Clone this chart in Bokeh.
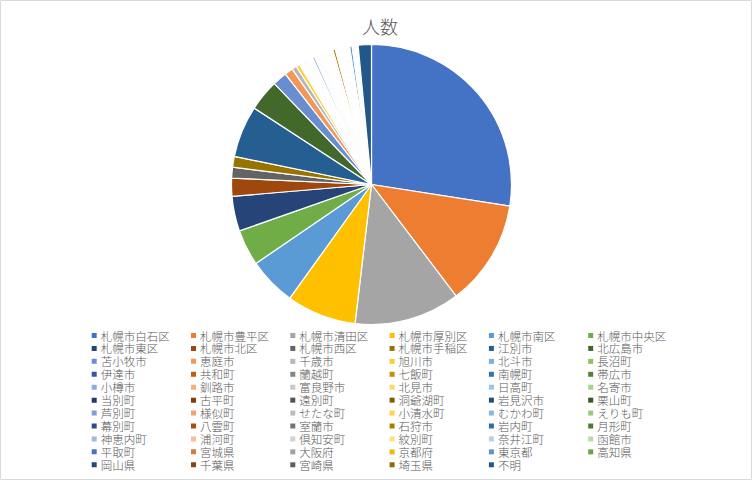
import numpy as np
from bokeh.plotting import figure
from bokeh.models import ColumnDataSource, Range1d
from bokeh.core.properties import value
from bokeh.embed import file_html
from bokeh.resources import INLINE

title_text = "人数"

categories = [
    "札幌市白石区", "札幌市豊平区", "札幌市清田区", "札幌市厚別区", "札幌市南区", "札幌市中央区",
    "札幌市東区", "札幌市北区", "札幌市西区", "札幌市手稲区", "江別市", "北広島市",
    "苫小牧市", "恵庭市", "千歳市", "旭川市", "北斗市", "長沼町",
    "伊達市", "共和町", "蘭越町", "七飯町", "南幌町", "帯広市",
    "小樽市", "釧路市", "富良野市", "北見市", "日高町", "名寄市",
    "当別町", "古平町", "遠別町", "洞爺湖町", "岩見沢市", "栗山町",
    "芦別町", "様似町", "せたな町", "小清水町", "むかわ町", "えりも町",
    "幕別町", "八雲町", "室蘭市", "石狩市", "岩内町", "月形町",
    "神恵内町", "浦河町", "倶知安町", "紋別町", "奈井江町", "函館市",
    "平取町", "宮城県", "大阪府", "京都府", "東京都", "高知県",
    "岡山県", "千葉県", "宮崎県", "埼玉県", "不明",
]

counts = [
    198, 88, 88, 58, 40, 30,
    29, 15, 9, 9, 43, 26,
    12, 7, 4, 3, 1, 1,
    1, 1, 1, 1, 1, 1,
    1, 1, 1, 1, 2, 1,
    1, 1, 1, 1, 1, 1,
    1, 1, 1, 1, 1, 1,
    1, 1, 1, 2, 1, 1,
    1, 1, 1, 1, 1, 1,
    1, 1, 1, 1, 2, 1,
    1, 1, 1, 1, 11,
]

colors = [
    "#4472C4", "#ED7D31", "#A5A5A5", "#FFC000", "#5B9BD5", "#70AD47",
    "#264478", "#9E480E", "#636363", "#997300", "#255E91", "#43682B",
    "#698ED0", "#F1975A", "#B7B7B7", "#FFCD33", "#7CAFDD", "#8CC168",
    "#335AA1", "#C55A11", "#848484", "#BF9000", "#2E75B6", "#548235",
    "#8FAADC", "#F4B183", "#C9C9C9", "#FFD966", "#9DC3E6", "#A9D18E",
    "#223962", "#843C0C", "#525252", "#7F6000", "#1F4E79", "#385723",
    "#7F9FD6", "#F3A26F", "#BDBDBD", "#FFD34D", "#8DB9E0", "#9BC97A",
    "#2E4E8A", "#A84E10", "#747474", "#A68000", "#2B6DA8", "#4E7A32",
    "#A2B8E1", "#F6BE98", "#D2D2D2", "#FFDF80", "#B4D1EC", "#BCDAA8",
    "#4A72C0", "#DB7A3A", "#A0A0A0", "#F2B700", "#5A93CC", "#6AA343",
    "#2A4677", "#8F4510", "#5E5E5E", "#8E6C00", "#22578A",
]

# ---- layout constants (pixels of the 752x480 reference) ----
W, H = 752, 480
def fx(xr):
    return xr
def fy(yr):
    return H - yr

cx, cy, R = fx(371), fy(184), 140
FONT = value("'Noto Sans CJK JP Light', 'Noto Sans CJK JP', sans-serif")

p = figure(width=W, height=H, output_backend="svg", toolbar_location=None,
           x_range=Range1d(0, W), y_range=Range1d(0, H),
           x_axis_type=None, y_axis_type=None, min_border=0,
           background_fill_color="white", border_fill_color="white")
p.outline_line_color = "#D9D9D9"
p.outline_line_width = 1

vals = np.array(counts, dtype=float)
frac = vals / vals.sum()
cum = np.concatenate([[0.0], np.cumsum(frac)])
start = np.pi / 2 - cum[:-1] * 2 * np.pi
end = np.pi / 2 - cum[1:] * 2 * np.pi

src = ColumnDataSource(dict(cat=categories, start=start, end=end, color=colors))
p.wedge(x=cx, y=cy, radius=R, start_angle="start", end_angle="end",
        direction="clock", fill_color="color", line_color="white",
        line_width=1.2, source=src)

# title
p.text(x=[fx(379.5)], y=[fy(25.5)], text=[title_text],
       text_font=FONT, text_font_size="18px",
       text_color="#595959", text_align="center", text_baseline="middle")

# legend (6 columns, row-major)
ncol = 6
idx = np.arange(len(categories))
col = idx % ncol
row = idx // ncol
mx = fx(93.7 + col * 99.3)
my = fy(335 + row * 12.93)
lsrc = ColumnDataSource(dict(mx=mx, my=my, tx=mx + 6.5, cat=categories, color=colors))
p.scatter(x="mx", y="my", marker="square", size=5, fill_color="color",
          line_color=None, source=lsrc)
p.text(x="tx", y="my", text="cat", text_font=FONT,
       text_font_size="11.5px", text_color="#595959", text_baseline="middle",
       source=lsrc)

open("out.html", "w").write(file_html(p, INLINE))
